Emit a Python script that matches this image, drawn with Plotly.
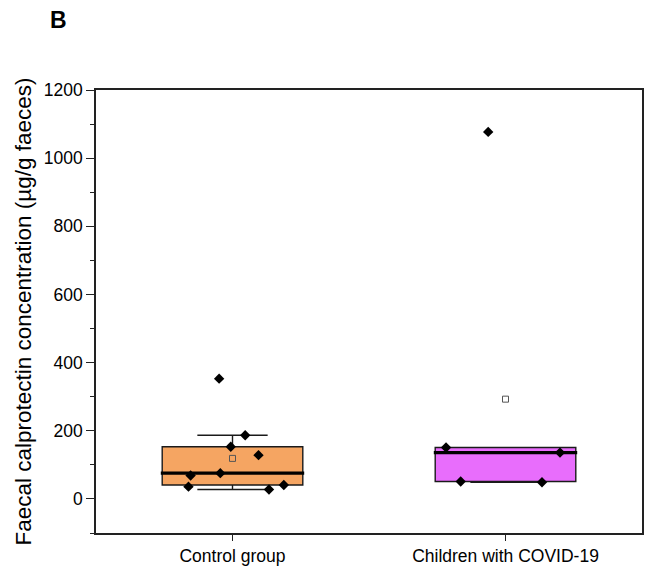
import numpy as np
import plotly.graph_objects as go

categories = ["Control group", "Children with COVID-19"]
control_values = [353, 187, 153, 128.5, 75.6, 68.6, 41, 27.5, 36]
covid_values = [136, 151, 51, 49, 1077]
fill_colors = ["#F5A562", "#E86DFC"]

series = [control_values, covid_values]
box_width = 0.515
font_family = "Liberation Sans, Arial, sans-serif"

fig = go.Figure()
for i, (name, vals, col) in enumerate(zip(categories, series, fill_colors)):
    fig.add_trace(go.Box(
        x=[i] * len(vals), y=vals, name=name,
        width=box_width, whiskerwidth=0.5,
        fillcolor=col, line=dict(color="#1a1a1a", width=1.4),
        boxpoints="all", jitter=1, pointpos=0,
        marker=dict(symbol="diamond", size=8, color="black"),
        quartilemethod="inclusive", showlegend=False,
    ))
# thick median line
for i, vals in enumerate(series):
    med = float(np.median(vals))
    half = box_width / 2 * 1.02
    fig.add_trace(go.Scatter(
        x=[i - half, i + half], y=[med, med], mode="lines",
        line=dict(color="black", width=3.2), showlegend=False, hoverinfo="skip",
    ))
# mean markers
fig.add_trace(go.Scatter(
    x=list(range(len(series))), y=[float(np.mean(v)) for v in series],
    mode="markers", marker=dict(symbol="square-open", size=6, color="#555555",
                                line=dict(width=1)),
    showlegend=False,
))

fig.update_layout(
    width=646, height=574,
    margin=dict(l=96, r=2, t=90, b=41),
    plot_bgcolor="white", paper_bgcolor="white",
    font=dict(family=font_family, color="black", size=17),
    annotations=[dict(text="<b>B</b>", x=(58 - 96) / 548, y=(533 - 20) / 443,
                      xref="x domain", yref="y domain",
                      xanchor="center", yanchor="middle",
                      showarrow=False, font=dict(size=23, color="black"))],
)
fig.update_xaxes(
    range=[-0.5, 1.5], tickvals=[0, 1], ticktext=categories,
    showline=True, linecolor="#222222", linewidth=1.6, mirror=True,
    ticks="outside", ticklen=6, tickwidth=1.4, tickcolor="#222222",
    showgrid=False, zeroline=False, tickfont=dict(size=17.5),
)
fig.update_yaxes(
    range=[-100, 1200], dtick=200, tick0=0,
    showline=True, linecolor="#222222", linewidth=1.6, mirror=True,
    ticks="outside", ticklen=8, tickwidth=1.4, tickcolor="#222222",
    minor=dict(dtick=100, tick0=0, ticks="outside", ticklen=4, tickwidth=1.2, tickcolor="#222222"),
    showgrid=False, zeroline=False, tickfont=dict(size=17.5),
    title=dict(text="Faecal calprotectin concentration (µg/g faeces)", font=dict(size=22.5), standoff=6),
)

fig.write_html("out.html")
